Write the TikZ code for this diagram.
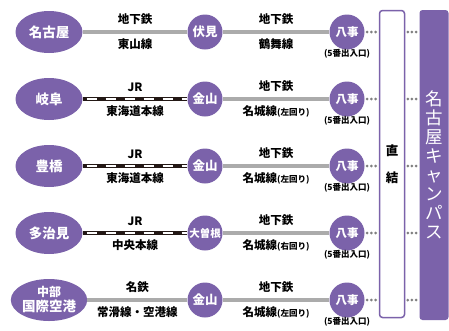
\documentclass[tikz,border=0pt]{standalone}
\usepackage{fontspec}
\setmainfont{Noto Sans CJK JP}
\usetikzlibrary{shapes.geometric}
\definecolor{uni}{HTML}{7B62AA}
\definecolor{gline}{HTML}{ABABAB}
\definecolor{jrblack}{HTML}{231815}
\definecolor{dotgray}{HTML}{808080}
\newcommand{\lblfont}{\fontsize{11.5}{13}\selectfont\bfseries}
\newcommand{\subfont}{\fontsize{8.5}{10}\selectfont\bfseries}
\begin{document}
\begin{tikzpicture}[x=1pt,y=-1pt,
    subway/.style={draw=gline,line width=4pt},
    jrline/.style={draw=jrblack,line width=4pt},
    jrdash/.style={draw=white,line width=1.3pt,dash pattern=on 10pt off 9pt,dash phase=-4pt},
    walk/.style={draw=dotgray,line width=3pt,line cap=round,dash pattern=on 0pt off 4.2pt,shorten <=2.5pt,shorten >=2.5pt}]

        \useasboundingbox (0,0) rectangle (449,330);

        \begin{scope}[every node/.style={ellipse,fill=uni,text=white,minimum width=67pt,minimum height=42pt,inner sep=0pt,align=center,font=\fontsize{13.5}{15}\selectfont\bfseries}]
          \node (nagoya) at (49,32)  {名古屋};
          \node (gifu)   at (49,99)  {岐阜};
          \node (toyo)   at (49,166) {豊橋};
          \node (taji)   at (49,233) {多治見};
          \node (chubu)  at (49,300) {\fontsize{12}{14.5}\selectfont 中部\\国際空港};
        \end{scope}

        \begin{scope}[every node/.style={circle,fill=uni,text=white,minimum size=35pt,inner sep=0pt,font=\fontsize{12.5}{14}\selectfont\bfseries}]
          \node (fushimi) at (205,32)  {伏見};
          \node (kana1)   at (205,99)  {金山};
          \node (kana2)   at (205,166) {金山};
          \node (ozone)   at (205,233) {\fontsize{10.5}{11}\selectfont 大曽根};
          \node (kana3)   at (205,300) {金山};
          \node (yago1)   at (347,32)  {\fontsize{11.5}{13}\selectfont 八事};
          \node (yago2)   at (347,99)  {\fontsize{11.5}{13}\selectfont 八事};
          \node (yago3)   at (347,166) {\fontsize{11.5}{13}\selectfont 八事};
          \node (yago4)   at (347,233) {\fontsize{11.5}{13}\selectfont 八事};
          \node (yago5)   at (347,300) {\fontsize{11.5}{13}\selectfont 八事};
        \end{scope}

        \begin{scope}[every node/.style={font=\subfont,inner sep=0pt}]
          \node (exit1) at (347,54)  {(5番出入口)};
          \node (exit2) at (347,121) {(5番出入口)};
          \node (exit3) at (347,188) {(5番出入口)};
          \node (exit4) at (347,255) {(5番出入口)};
          \node (exit5) at (347,322) {(5番出入口)};
        \end{scope}

        \node (direct) [draw=uni,line width=1.5pt,fill=white,rounded corners=3pt,minimum width=25pt,minimum height=307pt,align=center,font=\fontsize{12.5}{27}\selectfont\bfseries] at (392,164) {直\\結};
        \node (campus) [fill=uni,text=white,rounded corners=3pt,minimum width=29pt,minimum height=310pt,align=center,font=\fontsize{17.5}{19}\selectfont] at (434,165) {名\\古\\屋\\キ\\ャ\\ン\\パ\\ス};

        \begin{scope}[every node/.style={font=\lblfont,inner sep=0.5pt}]
          \path (nagoya) edge[subway] node[above=5pt] {地下鉄} node[below=4pt] {東山線} (fushimi);
          \path (gifu)   edge[jrline] node[above=5pt] {JR} node[below=4pt] {東海道本線} (kana1);
          \path (gifu)   edge[jrdash] (kana1);
          \path (toyo)   edge[jrline] node[above=5pt] {JR} node[below=4pt] {東海道本線} (kana2);
          \path (toyo)   edge[jrdash] (kana2);
          \path (taji)   edge[jrline] node[above=5pt] {JR} node[below=4pt] {中央本線} (ozone);
          \path (taji)   edge[jrdash] (ozone);
          \path (chubu)  edge[subway] node[above=5pt] {名鉄} node[below=4pt] {常滑線・空港線} (kana3);

          \path (fushimi) edge[subway] node[above=5pt] {地下鉄} node[below=4pt] {鶴舞線} (yago1);
          \path (kana1)   edge[subway] node[above=5pt] {地下鉄} node[below=4pt] {名城線{\subfont(左回り)}} (yago2);
          \path (kana2)   edge[subway] node[above=5pt] {地下鉄} node[below=4pt] {名城線{\subfont(左回り)}} (yago3);
          \path (ozone)   edge[subway] node[above=5pt] {地下鉄} node[below=4pt] {名城線{\subfont(右回り)}} (yago4);
          \path (kana3)   edge[subway] node[above=5pt] {地下鉄} node[below=4pt] {名城線{\subfont(左回り)}} (yago5);
        \end{scope}

        \path (yago1) edge[walk] (yago1 -| direct.west);
        \path (yago2) edge[walk] (yago2 -| direct.west);
        \path (yago3) edge[walk] (yago3 -| direct.west);
        \path (yago4) edge[walk] (yago4 -| direct.west);
        \path (yago5) edge[walk] (yago5 -| direct.west);
        \path (yago1 -| direct.east) edge[walk] (yago1 -| campus.west);
        \path (yago2 -| direct.east) edge[walk] (yago2 -| campus.west);
        \path (yago3 -| direct.east) edge[walk] (yago3 -| campus.west);
        \path (yago4 -| direct.east) edge[walk] (yago4 -| campus.west);
        \path (yago5 -| direct.east) edge[walk] (yago5 -| campus.west);

      \end{tikzpicture}
\end{document}
